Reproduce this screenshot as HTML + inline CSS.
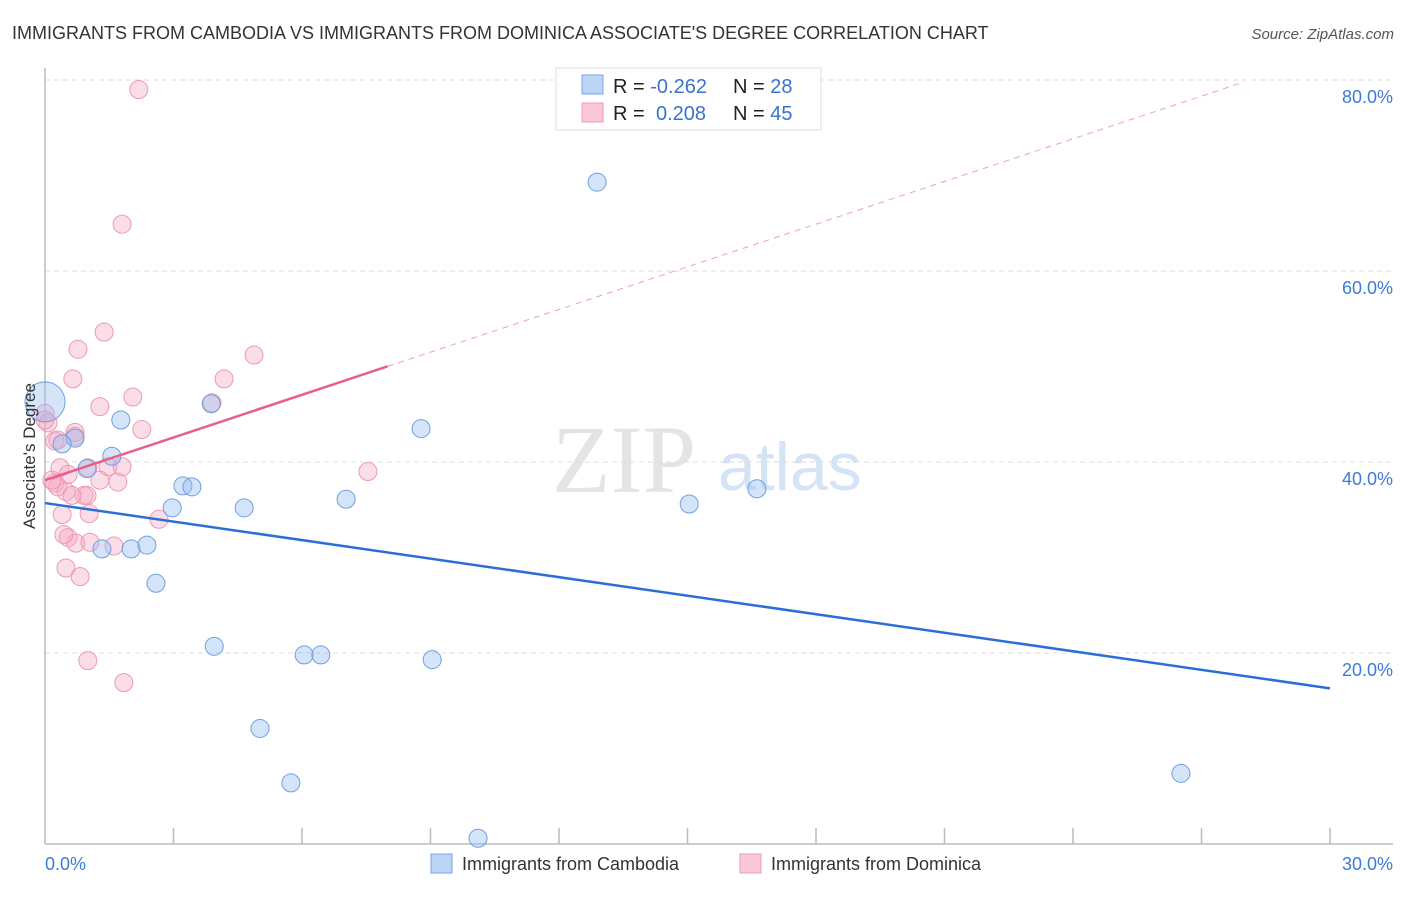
<!DOCTYPE html>
<html><head><meta charset="utf-8"><style>
body{margin:0;background:#fff;font-family:"Liberation Sans",sans-serif;}
</style></head><body>
<svg id="chart" width="1406" height="892" viewBox="0 0 1406 892" xmlns="http://www.w3.org/2000/svg" font-family="Liberation Sans, sans-serif">
<text x="12" y="39" font-size="18" fill="#333">IMMIGRANTS FROM CAMBODIA VS IMMIGRANTS FROM DOMINICA ASSOCIATE'S DEGREE CORRELATION CHART</text>
<text x="1394" y="39" font-size="15" fill="#555" text-anchor="end" font-style="italic">Source: ZipAtlas.com</text>
<g>
<text x="552" y="492" font-size="96" fill="#e4e4e4" font-family="Liberation Serif, serif">ZIP</text>
<text x="718" y="490" font-size="68" fill="#d5e4f5">atlas</text>
</g>
<g id="grid"></g>
<g id="axes"></g>
<g id="points"></g>
<g id="trends"></g>
<text x="35" y="456" font-size="17" fill="#333" text-anchor="middle" transform="rotate(-90 35 456)">Associate's Degree</text>
<g>
<rect x="556" y="68" width="265" height="62" fill="#fff" stroke="#ddd"/>
<rect x="582" y="75" width="21" height="19" fill="#bcd4f6" stroke="#7aa6e3"/>
<rect x="582" y="103" width="21" height="19" fill="#fbc8d6" stroke="#ee9ab4"/>
<text x="613" y="93" font-size="20" fill="#222">R = <tspan fill="#3a72d0">-0.262</tspan></text>
<text x="733" y="93" font-size="20" fill="#222">N = <tspan fill="#3a72d0">28</tspan></text>
<text x="613" y="120" font-size="20" fill="#222">R = <tspan fill="#3a72d0" x="656">0.208</tspan></text>
<text x="733" y="120" font-size="20" fill="#222">N = <tspan fill="#3a72d0">45</tspan></text>
</g>
<g>
<rect x="431" y="854" width="21" height="19" fill="#bcd4f6" stroke="#7aa6e3"/>
<text x="462" y="870" font-size="18" fill="#333">Immigrants from Cambodia</text>
<rect x="740" y="854" width="21" height="19" fill="#fbc8d6" stroke="#ee9ab4"/>
<text x="771" y="870" font-size="18" fill="#333">Immigrants from Dominica</text>
</g>
</svg>
<script>
const yTicks=[20,40,60,80];
const yTickLabels=["20.0%","40.0%","60.0%","80.0%"];
const xTickCount=10;
const xEndLabels=["0.0%","30.0%"];
const cambodiaX=[0,1.77,0.70,0.40,1.56,0.98,3.22,3.43,2.97,4.65,7.03,8.78,3.88,12.89,15.04,16.62,1.33,2.01,2.38,2.59,3.95,6.05,6.44,9.04,5.02,5.74,10.11,26.52];
const cambodiaY=[46.3,44.4,42.5,41.9,40.6,39.3,37.5,37.4,35.2,35.2,36.1,43.5,46.1,69.3,35.6,37.2,30.9,30.9,31.3,27.3,20.7,19.8,19.8,19.3,12.1,6.4,0.6,7.4];
const cambodiaSize=[20,9,9,9,9,9,9,9,9,9,9,9,9,9,9,9,9,9,9,9,9,9,9,9,9,9,9,9];
const dominicaX=[2.19,1.80,1.38,0.77,4.88,0.65,4.18,3.90,1.28,2.05,0,0.07,0.70,0.23,2.26,0.35,1.00,1.47,0.54,1.28,1.70,0.23,0.30,0.49,0.91,0.98,0.63,1.03,0.40,0.54,0.72,1.05,1.61,0.49,0.82,2.66,7.54,1.00,1.84,0.44,0.16,1.80,0.70,0,0.30];
const dominicaY=[79.0,64.9,53.6,51.8,51.2,48.7,48.7,46.2,45.8,46.8,45.1,44.1,42.7,42.2,43.4,39.4,39.4,39.5,38.7,38.1,37.9,37.8,37.4,36.9,36.5,36.5,36.5,34.6,34.5,32.1,31.5,31.6,31.2,28.9,28.0,34.0,39.0,19.2,16.9,32.4,38.1,39.5,43.1,44.4,42.3];
const cambodiaTrend=[35.7,16.3];
const dominicaTrend=[38.1,79.8];
const dominicaSolidEnd=8.0, dominicaDashEnd=28.0;

const X0=45,X1=1330,XMAX=30,Y0=844,YTOP=80,YMAXV=80;
const sx=v=>X0+v*(X1-X0)/XMAX;
const sy=v=>Y0-v*(Y0-YTOP)/YMAXV;
const NS="http://www.w3.org/2000/svg";
function mk(tag,attrs,parent){const e=document.createElementNS(NS,tag);for(const k in attrs)e.setAttribute(k,attrs[k]);document.getElementById(parent).appendChild(e);return e;}

yTicks.forEach((t,i)=>{
  const g=mk("line",{x1:X0,x2:1393,y1:sy(t),y2:sy(t),stroke:"#ddd","stroke-dasharray":"5,4"},"grid");
  
  
  const l=mk("text",{x:1393,y:sy(t)+23,"font-size":18,fill:"#3d7bd9","text-anchor":"end"},"grid");
  l.textContent=yTickLabels[i];
  
  
});
const ya=mk("line",{x1:X0,x2:X0,y1:68,y2:Y0,stroke:"#bbb","stroke-width":1.5},"axes");


const xa=mk("line",{x1:X0,x2:1393,y1:Y0,y2:Y0,stroke:"#bbb","stroke-width":1.5},"axes");


for(let i=1;i<=xTickCount;i++){
  const x=sx(i*XMAX/xTickCount);
  const t=mk("line",{x1:x,x2:x,y1:828,y2:Y0,stroke:"#bbb","stroke-width":1.5},"axes");
  
  
}
const xl0=mk("text",{x:X0,y:870,"font-size":18,fill:"#3d7bd9"},"axes");
xl0.textContent=xEndLabels[0];


const xl1=mk("text",{x:1393,y:870,"font-size":18,fill:"#3d7bd9","text-anchor":"end"},"axes");
xl1.textContent=xEndLabels[1];



dominicaX.forEach((v,i)=>{
  const c=mk("circle",{cx:sx(v),cy:sy(dominicaY[i]),r:9,fill:"rgba(246,170,196,0.4)",stroke:"#ec9ab4","stroke-width":1},"points");
  
  
});
cambodiaX.forEach((v,i)=>{
  const c=mk("circle",{cx:sx(v),cy:sy(cambodiaY[i]),r:cambodiaSize[i],fill:"rgba(150,190,240,0.4)",stroke:"#6f9fe0","stroke-width":1},"points");
  
  
});
const bt=mk("line",{x1:sx(0),y1:sy(cambodiaTrend[0]),x2:sx(XMAX),y2:sy(cambodiaTrend[1]),stroke:"#2a6fd6","stroke-width":2.5},"trends");


const slope=(dominicaTrend[1]-dominicaTrend[0])/dominicaDashEnd;
const ps=mk("line",{x1:sx(0),y1:sy(dominicaTrend[0]),x2:sx(dominicaSolidEnd),y2:sy(dominicaTrend[0]+slope*dominicaSolidEnd),stroke:"#e8608a","stroke-width":2.5},"trends");


const pd=mk("line",{x1:sx(dominicaSolidEnd),y1:sy(dominicaTrend[0]+slope*dominicaSolidEnd),x2:sx(dominicaDashEnd),y2:sy(dominicaTrend[1]),stroke:"#eca0b8","stroke-width":1,"stroke-dasharray":"6,5"},"trends");


</script>
</body></html>
